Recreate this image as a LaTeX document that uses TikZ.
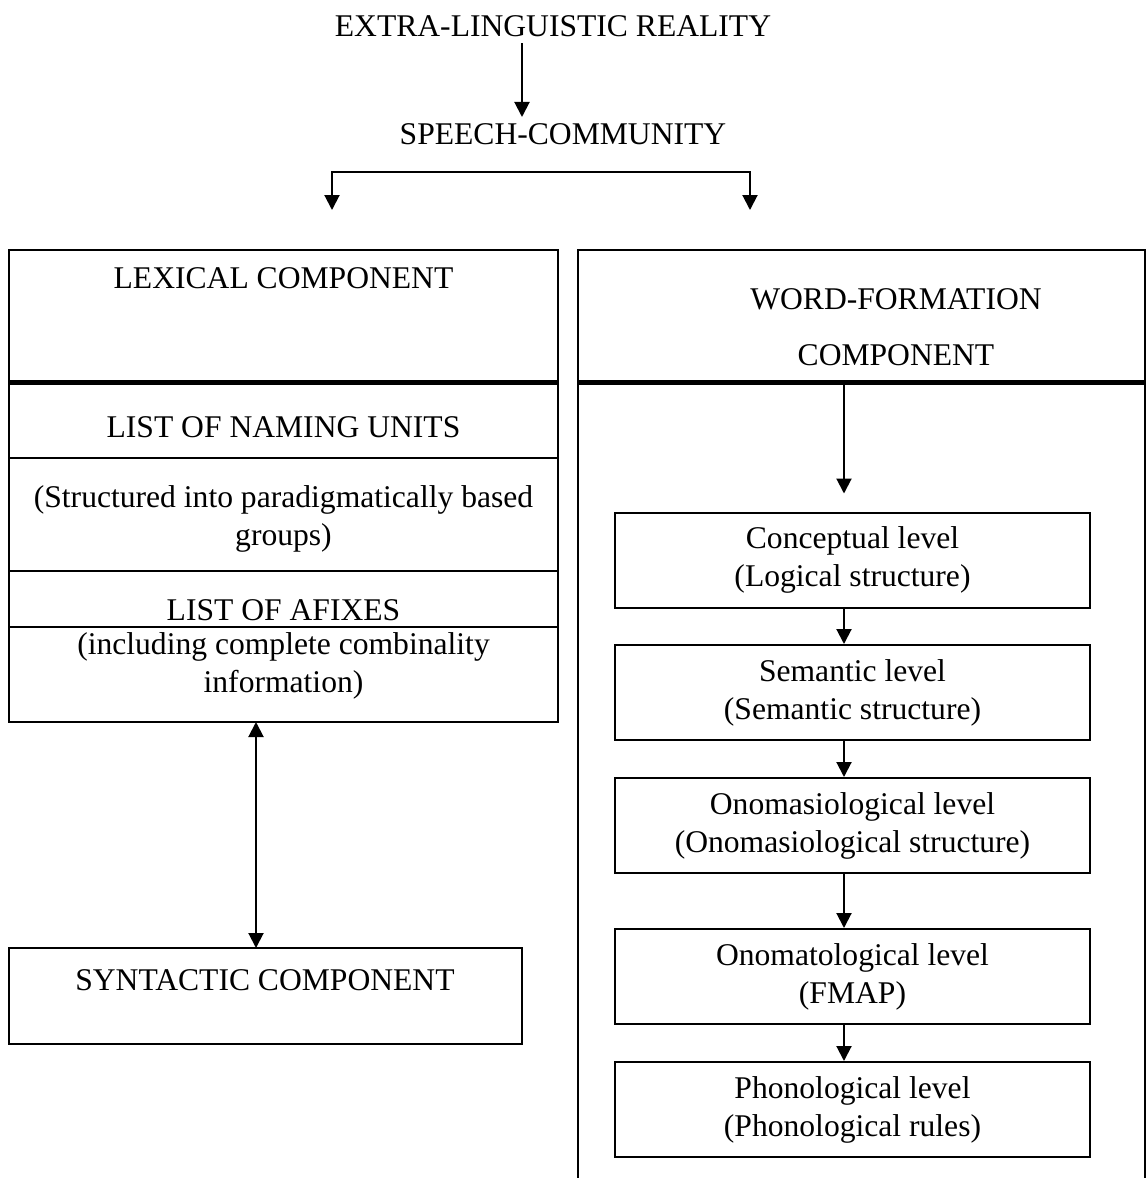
\documentclass[tikz,border=0pt]{standalone}
\usepackage{fontspec}
\setmainfont{Liberation Serif}
\usetikzlibrary{positioning,arrows.meta}

\begin{document}
\begin{tikzpicture}[
  x=0.5pt, y=-0.5pt,
  every node/.style={font=\fontsize{15.8}{19}\selectfont},
  txt/.style={inner sep=0pt, align=center},
  frame/.style={draw, line width=1pt, outer sep=0pt, minimum width=274.5pt},
  level/.style={draw, line width=1pt, align=center, inner sep=0pt,
                minimum width=237.5pt, minimum height=47.5pt},
  arr/.style={-{Triangle[length=7.5pt,width=7.5pt]}, line width=1pt},
  arrs/.style={{Triangle[length=7.5pt,width=7.5pt]}-{Triangle[length=7.5pt,width=7.5pt]}, line width=1pt},
  thickline/.style={line width=2.5pt}]
\useasboundingbox (0,0) rectangle (1146,1180);

% top of the chain
\node[txt] (reality) at (553,26) {EXTRA-LINGUISTIC REALITY};
\node[txt] (speech) at (563,134) {SPEECH-COMMUNITY};
\coordinate (ax1) at (522,0);
\draw[arr, shorten <=3pt, shorten >=3pt] (reality.south -| ax1) -- (speech.north -| ax1);

% split into the two components
\coordinate (sl) at (332,172);
\coordinate (sr) at (750,172);
\coordinate (tl) at (332,210);
\coordinate (tr) at (750,210);
\draw[arrs] (tl) -- (sl) -- (sr) -- (tr);

% lexical component
\node[frame, anchor=north west, minimum height=66pt] (lex) at (9,250) {};
\node[frame, below=0pt of lex, minimum height=38pt] (nam) {};
\node[frame, below=0pt of nam, minimum height=56.5pt] (grp) {};
\node[frame, below=0pt of grp, minimum height=28pt] (afx) {};
\node[frame, below=0pt of afx, minimum height=47.5pt] (cmb) {};
\draw[thickline] (lex.south west) -- (lex.south east);
\node[txt] (lexT) at (283.5,278) {LEXICAL COMPONENT};
\node[txt] (namT) at (283.5,427) {LIST OF NAMING UNITS};
\node[txt] (grpT) at (283.5,519) {(Structured into paradigmatically based\\groups)};
\node[txt] (afxT) at (283.5,610) {LIST OF AFIXES};
\node[txt] (cmbT) at (283.5,666) {(including complete combinality\\information)};

% syntactic component
\node[frame, anchor=north west, minimum width=256.5pt, minimum height=48pt] (syn) at (9,948) {};
\node[txt] (synT) at (265,980) {SYNTACTIC COMPONENT};
\coordinate (ax2) at (256,0);
\draw[arrs] (cmb.south -| ax2) -- (syn.north -| ax2);

% word-formation component
\node[frame, anchor=north west, minimum width=283.5pt, minimum height=66pt] (wfh) at (578,250) {};
\draw[thickline] (wfh.south west) -- (wfh.south east);
\draw[line width=1pt] (wfh.south west) -- ++(0,796);
\draw[line width=1pt] (wfh.south east) -- ++(0,796);
\node[txt] (wfT) at (896,327) {WORD-FORMATION\\[9pt]COMPONENT};

\node[level] (lv1) at (852.5,560) {Conceptual level\\(Logical structure)};
\node[level] (lv2) at (852.5,692.5) {Semantic level\\(Semantic structure)};
\node[level] (lv3) at (852.5,825.5) {Onomasiological level\\(Onomasiological structure)};
\node[level] (lv4) at (852.5,976.5) {Onomatological level\\(FMAP)};
\node[level] (lv5) at (852.5,1109.5) {Phonological level\\(Phonological rules)};
\coordinate (ax3) at (844,0);
\draw[arr, shorten >=9pt] (wfh.south -| ax3) -- (lv1.north -| ax3);
\foreach \a/\b in {lv1/lv2,lv2/lv3,lv3/lv4,lv4/lv5}
  \draw[arr] (\a.south -| ax3) -- (\b.north -| ax3);
\end{tikzpicture}
\end{document}
